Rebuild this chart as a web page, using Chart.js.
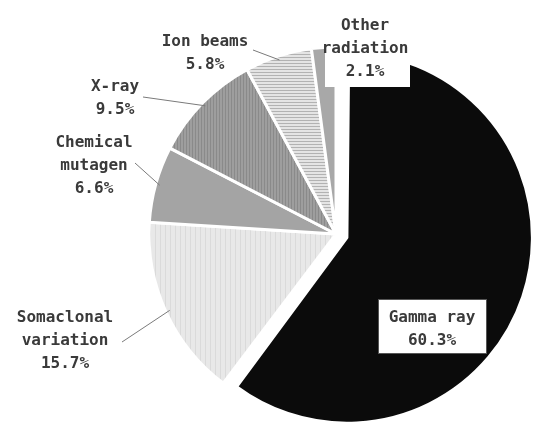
<!DOCTYPE html>
<html>
<head>
<meta charset="utf-8">
<script src="https://cdn.jsdelivr.net/npm/chart.js@4/dist/chart.umd.min.js"></script>
<style>
  html, body { margin: 0; padding: 0; background: #fff; }
  canvas { display: block; }
</style>
</head>
<body>
<canvas id="pie" width="533" height="423"></canvas>
<script>
// data
const categories = [['Gamma ray'], ['Somaclonal', 'variation'], ['Chemical', 'mutagen'], ['X-ray'], ['Ion beams'], ['Other', 'radiation']];
const shares = [60.3, 15.7, 6.6, 9.5, 5.8, 2.1];

// label placement (layout only)
const labelAt = [[432, 318], [65, 318], [94, 143], [115, 87], [205, 42], [365, 26]];
const leaderFrom = [null, [122, 342], [135, 163], [143, 97], [253, 50], null];

function stripes(bg, fg, vertical, gap) {
    const c = document.createElement('canvas');
    c.width = gap; c.height = gap;
    const g = c.getContext('2d');
    g.fillStyle = bg;
    g.fillRect(0, 0, gap, gap);
    g.fillStyle = fg;
    if (vertical) g.fillRect(0, 0, 1, gap);
    else g.fillRect(0, 0, gap, 1);
    return g.createPattern(c, 'repeat');
}

const fills = [
    '#0b0b0b',
    stripes('#e8e8e8', '#dadada', true, 5),
    '#a4a4a4',
    stripes('#9e9e9e', '#8a8a8a', true, 3),
    stripes('#e4e4e4', '#b2b2b2', false, 3),
    '#a8a8a8'
];

const labelPlugin = {
    id: 'pieLabels',
    beforeDatasetsDraw(chart) {
        // big slice: chart.js grows it by offset/4 when pulled out, and it
        // is a bit smaller than the rest in the original anyway
        const g = chart.getDatasetMeta(0).data[0];
        if (g && !g._shrunk) { g.outerRadius -= 13; g._shrunk = true; }
    },
    afterDatasetsDraw(chart) {
        const ctx = chart.ctx;
        const arcs = chart.getDatasetMeta(0).data;
        ctx.save();

        // leader lines
        ctx.strokeStyle = '#7a7a7a';
        ctx.lineWidth = 1;
        arcs.forEach((arc, i) => {
            if (!leaderFrom[i]) return;
            const p = arc.getProps(['x', 'y', 'startAngle', 'endAngle', 'outerRadius'], true);
            const a = (p.startAngle + p.endAngle) / 2;
            const r = p.outerRadius - 4;
            ctx.beginPath();
            ctx.moveTo(leaderFrom[i][0], leaderFrom[i][1]);
            ctx.lineTo(p.x + Math.cos(a) * r, p.y + Math.sin(a) * r);
            ctx.stroke();
        });

        // white backing behind "Other radiation"
        ctx.fillStyle = '#fff';
        ctx.fillRect(325, 8, 85, 79);

        // box for Gamma ray
        ctx.fillStyle = '#fff';
        ctx.fillRect(378, 299, 108, 54);
        ctx.strokeStyle = '#555';
        ctx.strokeRect(378.5, 299.5, 108, 54);

        ctx.font = 'bold 16px "DejaVu Sans Mono"';
        ctx.fillStyle = '#3a3a3a';
        ctx.textAlign = 'center';
        ctx.textBaseline = 'middle';
        categories.forEach((lines, i) => {
            const all = lines.concat([shares[i].toFixed(1) + '%']);
            all.forEach((t, k) => {
                ctx.fillText(t, labelAt[i][0], labelAt[i][1] + k * 23);
            });
        });
        ctx.restore();
    }
};

new Chart(document.getElementById('pie'), {
    type: 'pie',
    data: {
        labels: categories,
        datasets: [{
            data: shares,
            backgroundColor: fills,
            borderColor: '#fff',
            borderWidth: 3,
            // shifted by offset/2 in total for a slice wider than a half
            offset: [46, 0, 0, 0, 0, 0],
            radius: 187,
            clip: false
        }]
    },
    options: {
        responsive: false,
        animation: false,
        layout: { padding: { left: 139, right: 0, top: 45, bottom: 0 } },
        plugins: {
            legend: { display: false },
            tooltip: { enabled: false }
        }
    },
    plugins: [labelPlugin]
});
</script>
</body>
</html>
